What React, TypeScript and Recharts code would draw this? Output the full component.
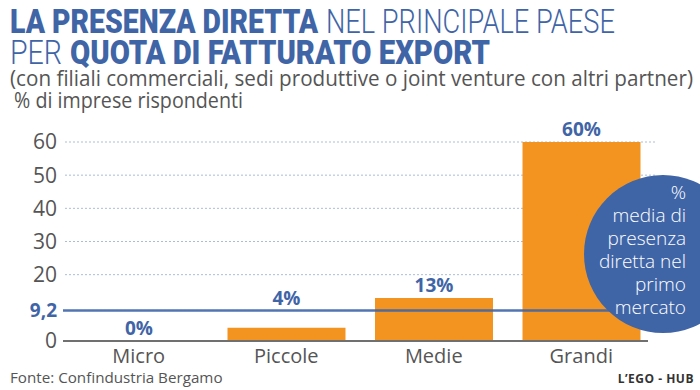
import React from 'react';
import {
  BarChart,
  Bar,
  XAxis,
  YAxis,
  CartesianGrid,
  ReferenceLine,
  LabelList,
} from 'recharts';

const categories = ['Micro', 'Piccole', 'Medie', 'Grandi'];
const presenza = [0, 4, 13, 60];
const media = 9.2;
const yTicks = [0, 9.2, 20, 30, 40, 50, 60];
const gridValues = [20, 30, 40, 50, 60];

const BLUE = '#3f65a7';
const ORANGE = '#f39421';
const GREY = '#555555';
const FONT = '"Open Sans", "Noto Sans", sans-serif';

// plot geometry, used only to keep value labels clear of the mean line
const PLOT_TOP = 142;
const PLOT_BOTTOM = 341;
const Y_MAX = 60;

const data = categories.map((name, i) => ({ name, value: presenza[i] }));

function YTick(props: any) {
  const { x, y, payload } = props;
  const isMedia = payload.value === media;
  return (
    <text
      x={x}
      y={y}
      dy="0.35em"
      textAnchor="end"
      fontFamily={FONT}
      fontSize={isMedia ? 19 : 21}
      fontWeight={isMedia ? 700 : 400}
      fill={isMedia ? BLUE : GREY}
    >
      {String(payload.value).replace('.', ',')}
    </text>
  );
}

function ValueLabel(props: any) {
  const { x, y, width, value } = props;
  const lineY = PLOT_BOTTOM - ((PLOT_BOTTOM - PLOT_TOP) * media) / Y_MAX;
  let bottom = y - 6;
  // move above the mean line when the label would cross it
  if (bottom > lineY - 4 && bottom - 15 < lineY + 4) bottom = lineY - 5;
  return (
    <text
      x={x + width / 2}
      y={bottom}
      textAnchor="middle"
      fill={BLUE}
      fontSize={19}
      fontWeight={700}
      fontFamily={FONT}
    >
      {`${value}%`}
    </text>
  );
}

export default function App() {
  return (
    <div
      style={{
        position: 'fixed',
        left: 0,
        top: 0,
        width: 700,
        height: 390,
        background: '#fff',
        overflow: 'hidden',
        fontFamily: FONT,
      }}
    >
      <svg width={700} height={115} style={{ position: 'absolute', left: 0, top: 0 }}>
        <g fill={BLUE} fontFamily='Roboto, "Open Sans", sans-serif' fontSize={33}>
          <text x={10} y={33} fontWeight={900} textLength={308} lengthAdjust="spacingAndGlyphs">
            LA PRESENZA DIRETTA
          </text>
          <text x={326} y={33} fontWeight={300} textLength={289} lengthAdjust="spacingAndGlyphs">
            NEL PRINCIPALE PAESE
          </text>
          <text x={10} y={64} fontWeight={300} textLength={52} lengthAdjust="spacingAndGlyphs">
            PER
          </text>
          <text x={70} y={64} fontWeight={900} textLength={420} lengthAdjust="spacingAndGlyphs">
            QUOTA DI FATTURATO EXPORT
          </text>
        </g>
        <g fill={GREY} fontFamily={FONT} fontSize={21}>
          <text x={10} y={86} textLength={683} lengthAdjust="spacingAndGlyphs">
            (con filiali commerciali, sedi produttive o joint venture con altri partner)
          </text>
          <text x={14} y={108} textLength={229} lengthAdjust="spacingAndGlyphs">
            % di imprese rispondenti
          </text>
        </g>
      </svg>

      <div style={{ position: 'absolute', left: 0, top: 0 }}>
        <BarChart
          width={700}
          height={390}
          data={data}
          margin={{ top: PLOT_TOP, right: 45, bottom: 19, left: 5 }}
          barCategoryGap={15}
        >
          <CartesianGrid
            horizontal
            vertical={false}
            horizontalValues={gridValues}
            stroke="#a9bdd9"
            strokeDasharray="2 2"
          />
          <XAxis
            dataKey="name"
            axisLine={false}
            tickLine={false}
            height={30}
            tickMargin={2}
            tick={{ fill: GREY, fontSize: 20, fontFamily: FONT }}
          />
          <YAxis
            width={60}
            domain={[0, Y_MAX]}
            ticks={yTicks}
            interval={0}
            axisLine={false}
            tickLine={false}
            tick={<YTick />}
          />
          <Bar dataKey="value" fill={ORANGE} minPointSize={0.01} isAnimationActive={false}>
            <LabelList dataKey="value" content={<ValueLabel />} />
          </Bar>
          <ReferenceLine
            y={0}
            shape={(p: any) => (
              <line x1={p.x1 - 2} y1={p.y1} x2={p.x2 - 7} y2={p.y2} stroke="#707070" strokeWidth={2} />
            )}
          />
          <ReferenceLine
            y={media}
            shape={(p: any) => (
              <line x1={p.x1 - 2} y1={p.y1} x2={p.x2} y2={p.y2} stroke={BLUE} strokeWidth={2.5} strokeOpacity={0.9} />
            )}
          />
        </BarChart>
      </div>

      <div
        style={{
          position: 'absolute',
          left: 584,
          top: 175,
          width: 158,
          height: 158,
          borderRadius: '50%',
          background: BLUE,
        }}
      />
      <div
        style={{
          position: 'absolute',
          right: 14,
          top: 181,
          width: 110,
          textAlign: 'right',
          color: '#fff',
          fontSize: 19,
          lineHeight: '23px',
          fontWeight: 300,
        }}
      >
        %<br />
        media di<br />
        presenza<br />
        diretta nel<br />
        primo<br />
        mercato
      </div>

      <div style={{ position: 'absolute', left: 10, top: 367, fontSize: 15.2, color: GREY }}>
        Fonte: Confindustria Bergamo
      </div>
      <div
        style={{
          position: 'absolute',
          right: 6,
          top: 370,
          fontSize: 12,
          fontWeight: 700,
          color: '#333',
          letterSpacing: 0.5,
        }}
      >
        L’EGO - HUB
      </div>
    </div>
  );
}
